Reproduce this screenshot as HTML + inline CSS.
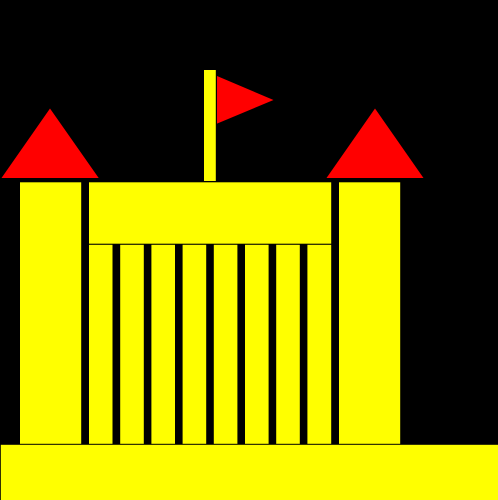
<!DOCTYPE html>
<html lang="en">
<head>
<meta charset="utf-8">
<title>Castle</title>
<style>
html,body{margin:0;padding:0;background:#000;width:498px;height:500px;overflow:hidden}
svg{display:block}
</style>
</head>
<body>
<svg xmlns="http://www.w3.org/2000/svg" width="498" height="500" viewBox="0 0 498 500">
<rect x="0" y="0" width="498" height="500" fill="#000000"/>
<rect x="0.8" y="444.8" width="498" height="56" fill="#ffff00"/>
<rect x="20" y="182.3" width="61.2" height="261.5" fill="#ffff00"/>
<rect x="339" y="182.3" width="61.2" height="261.5" fill="#ffff00"/>
<rect x="89" y="182.3" width="242.2" height="61.4" fill="#ffff00"/>
<rect x="89" y="244.8" width="23.5" height="199" fill="#ffff00"/>
<rect x="120.2" y="244.8" width="23.6" height="199" fill="#ffff00"/>
<rect x="151.4" y="244.8" width="23.6" height="199" fill="#ffff00"/>
<rect x="182.6" y="244.8" width="23.6" height="199" fill="#ffff00"/>
<rect x="213.8" y="244.8" width="23.6" height="199" fill="#ffff00"/>
<rect x="245" y="244.8" width="23.6" height="199" fill="#ffff00"/>
<rect x="276.2" y="244.8" width="23.6" height="199" fill="#ffff00"/>
<rect x="307.4" y="244.8" width="23.8" height="199" fill="#ffff00"/>
<rect x="204" y="70" width="11.8" height="111" fill="#ffff00"/>
<polygon points="217,76 273.5,100 217,123.6" fill="#ff0000"/>
<polygon points="1.5,178 50,108.5 98.7,178" fill="#ff0000"/>
<polygon points="326.5,178 375,108.5 423.5,178" fill="#ff0000"/>
</svg>
</body>
</html>
